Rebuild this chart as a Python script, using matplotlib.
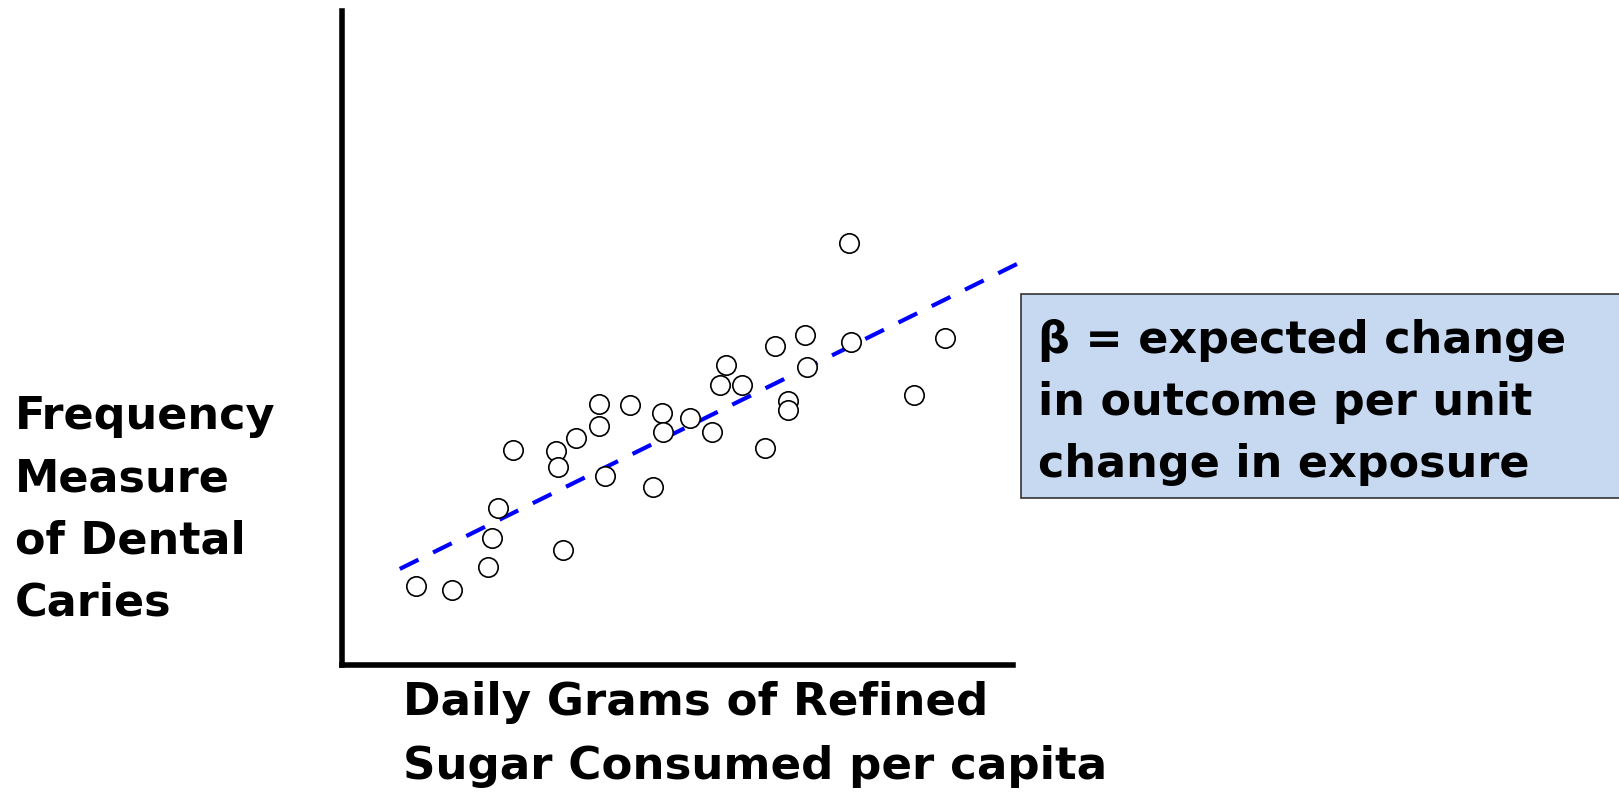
import matplotlib
matplotlib.use('Agg')
import matplotlib.pyplot as plt
from matplotlib.patches import Rectangle

# sugar intake (x) vs caries frequency (y), arbitrary 0-100 units
sugar = [11.3, 16.6, 22.0, 22.6, 23.5, 25.8, 32.1, 32.4, 33.2, 35.1, 38.6, 38.6,
         39.5, 43.1, 46.6, 47.9, 48.1, 52.1, 55.3, 57.4, 56.5, 59.8, 63.3, 64.8,
         66.6, 66.6, 69.2, 69.5, 75.8, 76.1, 85.4, 90.1]
caries = [11.6, 11.0, 14.6, 19.1, 23.7, 32.6, 32.4, 30.0, 17.2, 34.4, 39.7, 36.3,
          28.5, 39.5, 26.9, 38.2, 35.3, 37.5, 35.4, 45.6, 42.5, 42.5, 32.9, 48.5,
          40.1, 38.7, 50.3, 45.3, 64.3, 49.1, 41.0, 49.7]

# regression line
intercept = 9.76
slope = 0.51
line_x = [8.9, 101.2]

ylabel_lines = ['Frequency', 'Measure', 'of Dental', 'Caries']
xlabel_lines = ['Daily Grams of Refined', 'Sugar Consumed per capita']
box_lines = ['\u03b2 = expected change', 'in outcome per unit', 'change in exposure']

W, H = 1619, 794
fig = plt.figure(figsize=(W / 100, H / 100), dpi=100)


def fx(px):
    return px / W


def fy(py):
    return 1 - py / H


ax = fig.add_axes([fx(342), fy(665), (1013 - 342) / W, (665 - 11) / H])
ax.set_xlim(0.3, 100.15)
ax.set_ylim(-0.46, 100)
for s in ['top', 'right']:
    ax.spines[s].set_visible(False)
for s in ['left', 'bottom']:
    ax.spines[s].set_linewidth(4)
    ax.spines[s].set_capstyle('projecting')
ax.set_xticks([])
ax.set_yticks([])
ax.patch.set_visible(False)

ax.scatter(sugar, caries, s=195, facecolors='white', edgecolors='black',
           linewidths=1.2, zorder=3, clip_on=False)
line_y = [intercept + slope * v for v in line_x]
ax.plot(line_x, line_y, color='#0000ff', lw=3.0, linestyle=(0, (5.0, 3.9)),
        clip_on=False, zorder=2)

font = dict(family='DejaVu Sans', weight='bold', fontsize=32, color='black')

for i, t in enumerate(ylabel_lines):
    fig.text(fx(15), fy(416 + 62.5 * i), t, ha='left', va='center', **font)

for i, t in enumerate(xlabel_lines):
    fig.text(fx(403), fy(702 + 64 * i), t, ha='left', va='center',
             fontsize=32.5, **{k: v for k, v in font.items() if k != 'fontsize'})

fig.patches.append(Rectangle((fx(1021), fy(498)), fx(700), (498 - 294) / H,
                             transform=fig.transFigure, facecolor='#c6d9f1',
                             edgecolor='#333333', lw=1.2, zorder=1))
for i, t in enumerate(box_lines):
    fig.text(fx(1038), fy(341 + 62 * i), t, ha='left', va='center', zorder=2, **font)

fig.savefig('out.png', dpi=100)
